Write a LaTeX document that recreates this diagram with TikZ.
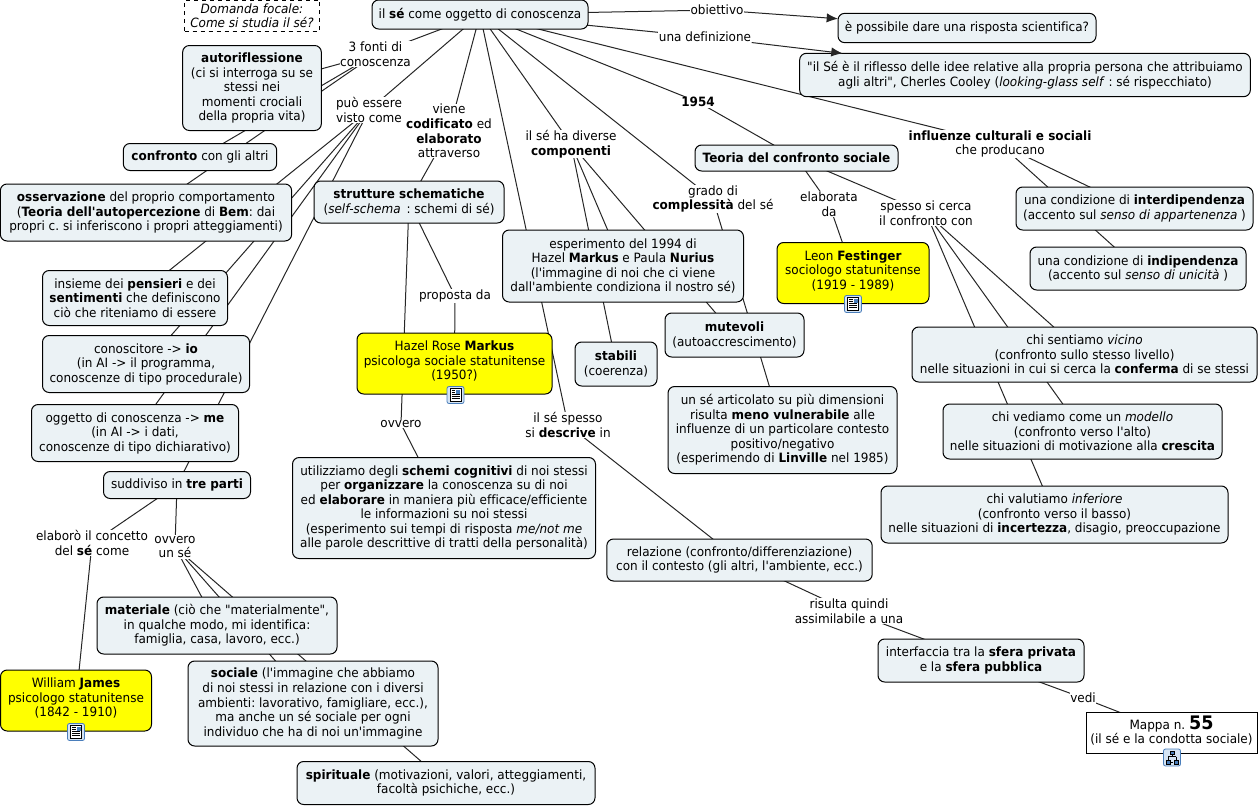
\documentclass[tikz,border=0pt]{standalone}
\usepackage{fontspec}
\setmainfont[FakeStretch=0.94,Ligatures={TeXOff,NoCommon}]{DejaVu Sans}
\usetikzlibrary{arrows.meta,backgrounds}
\definecolor{conceptfill}{HTML}{EBF2F5}
\definecolor{personfill}{RGB}{255,255,0}
\definecolor{iconblue}{HTML}{4A7EBB}
\definecolor{iconfill}{HTML}{D5E4F4}
\newcommand{\mapfont}{\frenchspacing\fontsize{9.6}{10.9}\selectfont}
\newcommand{\iconroom}{\rule[-4.5pt]{0pt}{4.5pt}}

\begin{document}
\begin{tikzpicture}[x=0.75pt, y=-0.75pt,
  concept/.style={draw=black, line width=0.75pt, fill=conceptfill, rounded corners=5pt, align=center, font=\mapfont, inner sep=0pt, outer sep=0pt},
  person/.style={concept, fill=personfill},
  mapref/.style={concept, fill=white, rounded corners=0pt},
  focal/.style={draw=black, dashed, line width=0.75pt, fill=white, align=center, font=\mapfont\itshape, inner sep=0pt, outer sep=0pt},
  linking/.style={fill=white, align=center, font=\mapfont, inner sep=0.5pt, outer sep=0pt},
  link/.style={line width=0.75pt, black!85},
  linkarrow/.style={link, -{Latex[length=8.5pt, width=7pt]}},
  docicon/.pic={
    \draw[iconblue, fill=iconfill, rounded corners=1.5pt, line width=0.6pt] (-8.5,-8.5) rectangle (8.5,8.5);
    \draw[black, fill=white, line width=0.45pt] (-5.5,-6.5) rectangle (5.5,6.5);
    \fill[iconblue] (0.5,-5.5) rectangle (4.5,-1.5);
    \draw[black, line width=0.4pt] (-4,-4.5) -- (-0.5,-4.5) (-4,-2.5) -- (-0.5,-2.5) (-4,-0.5) -- (4,-0.5) (-4,1.5) -- (4,1.5) (-4,3.5) -- (4,3.5);
  },
  mapicon/.pic={
    \draw[iconblue, fill=iconfill, rounded corners=1.5pt, line width=0.6pt] (-8.5,-8.5) rectangle (8.5,8.5);
    \draw[black, line width=0.5pt] (0,-4) -- (0,-1) (-4,-1) -- (4,-1) (-4,-1) -- (-4,3) (4,-1) -- (4,3) (-1,5) -- (1,5);
    \draw[black, fill=iconblue, line width=0.4pt] (-2,-6.5) rectangle (2,-3.5) (-6,3) rectangle (-2,6.5) (2,3) rectangle (6,6.5);
  }]
\useasboundingbox (0,0) rectangle (1260,807);

\node[concept, minimum width=162pt, minimum height=21.75pt] (root) at (480,14.5) {il \textbf{sé} come oggetto di conoscenza};
\node[focal, minimum width=101.25pt, minimum height=23.25pt] (question) at (252,15.5) {Domanda focale:\\Come si studia il sé?};
\node[concept, minimum width=193.5pt, minimum height=22pt] (goal) at (967,28) {è possibile dare una risposta scientifica?};
\node[concept, minimum width=338pt, minimum height=32.5pt] (cooley) at (1025,75) {"il Sé è il riflesso delle idee relative alla propria persona che attribuiamo\\agli altri", Cherles Cooley (\textit{looking-glass self} : sé rispecchiato)};
\node[concept, minimum width=104pt, minimum height=63.75pt] (autorifl) at (252,88) {\textbf{autoriflessione}\\(ci si interroga su se\\stessi nei\\momenti crociali\\della propria vita)};
\node[concept, minimum width=115pt, minimum height=20.25pt] (confronto) at (200,157) {\textbf{confronto} con gli altri};
\node[concept, minimum width=218.5pt, minimum height=42.75pt] (osservaz) at (146,212.5) {\textbf{osservazione} del proprio comportamento\\(\textbf{Teoria dell'autopercezione} di \textbf{Bem}: dai\\propri c. si inferiscono i propri atteggiamenti)};
\node[concept, minimum width=142.5pt, minimum height=31.5pt] (strutture) at (409,202) {\textbf{strutture schematiche}\\(\textit{self-schema}\, : schemi di sé)};
\node[concept, minimum width=138.75pt, minimum height=41.25pt] (insieme) at (135,298) {insieme dei \textbf{pensieri} e dei\\\textbf{sentimenti} che definiscono\\ciò che riteniamo di essere};
\node[concept, minimum width=155.25pt, minimum height=42.75pt] (io) at (146,364) {conoscitore -> \textbf{io}\\(in AI -> il programma,\\conoscenze di tipo procedurale)};
\node[concept, minimum width=155.25pt, minimum height=42.75pt] (me) at (135,433) {oggetto di conoscenza -> \textbf{me}\\(in AI -> i dati,\\conoscenze di tipo dichiarativo)};
\node[concept, minimum width=110.25pt, minimum height=20.25pt] (treparti) at (177,485) {suddiviso in \textbf{tre parti}};
\node[person, minimum width=146.25pt, minimum height=45.75pt] (markus) at (454.5,363.5) {Hazel Rose \textbf{Markus}\\psicologa sociale statunitense\\(1950?)\iconroom};
\node[concept, minimum width=227.25pt, minimum height=75.75pt] (schemi) at (444,508) {utilizziamo degli \textbf{schemi cognitivi} di noi stessi\\per \textbf{organizzare} la conoscenza su di noi\\ed \textbf{elaborare} in maniera più efficace/efficiente\\le informazioni su noi stessi\\(esperimento sui tempi di risposta \textit{me/not me}\\alle parole descrittive di tratti della personalità)};
\node[concept, minimum width=180.75pt, minimum height=54pt] (esperimento) at (623,266) {esperimento del 1994 di\\Hazel \textbf{Markus} e Paula \textbf{Nurius}\\(l'immagine di noi che ci viene\\dall'ambiente condiziona il nostro sé)};
\node[concept, minimum width=61.5pt, minimum height=33pt] (stabili) at (616,364) {\textbf{stabili}\\(coerenza)};
\node[concept, minimum width=104.25pt, minimum height=33pt] (mutevoli) at (734.5,335) {\textbf{mutevoli}\\(autoaccrescimento)};
\node[concept, minimum width=171.75pt, minimum height=65.25pt] (linville) at (782.5,430) {un sé articolato su più dimensioni\\risulta \textbf{meno vulnerabile} alle\\influenze di un particolare contesto\\positivo/negativo\\(esperimendo di \textbf{Linville} nel 1985)};
\node[concept, minimum width=152.25pt, minimum height=19.5pt] (teoria) at (796.5,158) {\textbf{Teoria del confronto sociale}};
\node[person, minimum width=114pt, minimum height=45.75pt] (festinger) at (853,273) {Leon \textbf{Festinger}\\sociologo statunitense\\(1919 - 1989)\iconroom};
\node[concept, minimum width=177.75pt, minimum height=32.25pt] (interdip) at (1134.5,208.5) {una condizione di \textbf{interdipendenza}\\(accento sul \textit{senso di appartenenza} )};
\node[concept, minimum width=162pt, minimum height=32.25pt] (indip) at (1138,268.5) {una condizione di \textbf{indipendenza}\\(accento sul \textit{senso di unicità} )};
\node[concept, minimum width=258.75pt, minimum height=41.25pt] (vicino) at (1084.5,354.5) {chi sentiamo \textit{vicino}\\(confronto sullo stesso livello)\\nelle situazioni in cui si cerca la \textbf{conferma} di se stessi};
\node[concept, minimum width=209.25pt, minimum height=41.25pt] (modello) at (1082.5,431.5) {chi vediamo come un \textit{modello}\\(confronto verso l'alto)\\nelle situazioni di motivazione alla \textbf{crescita}};
\node[concept, minimum width=260.25pt, minimum height=42.75pt] (inferiore) at (1054.5,514.5) {chi valutiamo \textit{inferiore}\\(confronto verso il basso)\\nelle situazioni di \textbf{incertezza}, disagio, preoccupazione};
\node[concept, minimum width=199pt, minimum height=31.5pt] (relazione) at (739.5,560) {relazione (confronto/differenziazione)\\con il contesto (gli altri, l'ambiente, ecc.)};
\node[concept, minimum width=180pt, minimum height=42.75pt] (materiale) at (217,625.5) {\textbf{materiale} (ciò che "materialmente",\\in qualche modo, mi identifica:\\famiglia, casa, lavoro, ecc.)};
\node[concept, minimum width=187.5pt, minimum height=63.75pt] (sociale) at (313,703.5) {\textbf{sociale} (l'immagine che abbiamo\\di noi stessi in relazione con i diversi\\ambienti: lavorativo, famigliare, ecc.),\\ma anche un sé sociale per ogni\\individuo che ha di noi un'immagine};
\node[concept, minimum width=223.5pt, minimum height=32.25pt] (spirituale) at (446,783) {\textbf{spirituale} (motivazioni, valori, atteggiamenti,\\facoltà psichiche, ecc.)};
\node[person, minimum width=113.25pt, minimum height=45.75pt] (james) at (76,700.5) {William \textbf{James}\\psicologo statunitense\\(1842 - 1910)\iconroom};
\node[concept, minimum width=154.5pt, minimum height=32.25pt] (interfaccia) at (981,660.5) {interfaccia tra la \textbf{sfera privata}\\e la \textbf{sfera pubblica}};
\node[mapref, minimum width=128.25pt, minimum height=30.75pt] (mappa) at (1171.5,732.5) {Mappa n. {\fontsize{14}{10}\selectfont\textbf{55}}\\(il sé e la condotta sociale)\iconroom};

\node[linking] (fonti) at (375.5,54) {3 fonti di\\conoscenza};
\node[linking] (visto) at (369,110) {può essere\\visto come};
\node[linking] (codificato) at (449,131) {viene\\\textbf{codificato} ed\\\textbf{elaborato}\\attraverso};
\node[linking] (componenti) at (571,144) {il sé ha diverse\\\textbf{componenti}};
\node[linking] (grado) at (713,199) {grado di\\\textbf{complessità} del sé};
\node[linking] (anno) at (698,102) {\textbf{1954}};
\node[linking] (elaborata) at (829,204) {elaborata\\da};
\node[linking] (spesso) at (926,213) {spesso si cerca\\il confronto con};
\node[linking] (influenze) at (1000,144) {\textbf{influenze culturali e sociali}\\che producano};
\node[linking] (obiettivo) at (717,10) {obiettivo};
\node[linking] (definizione) at (705,37) {una definizione};
\node[linking] (proposta) at (455,296) {proposta da};
\node[linking] (ovvero) at (401,424) {ovvero};
\node[linking] (descrive) at (568,425) {il sé spesso\\si \textbf{descrive} in};
\node[linking] (risulta) at (849,611) {risulta quindi\\assimilabile a una};
\node[linking] (vedi) at (1083,698) {vedi};
\node[linking] (concetto) at (92,543) {elaborò il concetto\\del \textbf{sé} come};
\node[linking] (unse) at (175,547) {ovvero\\un sé};

\pic at (455.5,395) {docicon};
\pic at (853,304) {docicon};
\pic at (76,732) {docicon};
\pic at (1172,757.5) {mapicon};

\begin{scope}[on background layer]
\draw[link] (root.center) -- (fonti.center);
\draw[link] (root.center) -- (visto.center);
\draw[link] (root.center) -- (codificato.center);
\draw[link] (root.center) -- (componenti.center);
\draw[link] (root.center) -- (descrive.center);
\draw[link] (root.center) -- (grado.center);
\draw[link] (root.center) -- (anno.center);
\draw[link] (root.center) -- (influenze.center);
\draw[link] (root.center) -- (obiettivo.center);
\draw[link] (root.center) -- (definizione.center);
\draw[link] (fonti.center) -- (autorifl.center);
\draw[link] (fonti.center) -- (confronto.center);
\draw[link] (fonti.center) -- (osservaz.center);
\draw[link] (visto.center) -- (insieme.center);
\draw[link] (visto.center) -- (io.center);
\draw[link] (visto.center) -- (me.center);
\draw[link] (visto.center) -- (treparti.center);
\draw[link] (codificato.center) -- (strutture.center);
\draw[link] (strutture.center) -- (proposta.center);
\draw[link] (strutture.center) -- (ovvero.center);
\draw[link] (proposta.center) -- (markus.center);
\draw[link] (ovvero.center) -- (schemi.center);
\draw[link] (componenti.center) -- (esperimento.center);
\draw[link] (componenti.center) -- (stabili.center);
\draw[link] (componenti.center) -- (mutevoli.center);
\draw[link] (grado.center) -- (linville.center);
\draw[link] (anno.center) -- (teoria.center);
\draw[link] (teoria.center) -- (elaborata.center);
\draw[link] (teoria.center) -- (spesso.center);
\draw[link] (elaborata.center) -- (festinger.center);
\draw[link] (spesso.center) -- (vicino.center);
\draw[link] (spesso.center) -- (modello.center);
\draw[link] (spesso.center) -- (inferiore.center);
\draw[link] (influenze.center) -- (interdip.center);
\draw[link] (influenze.center) -- (indip.center);
\draw[link] (treparti.center) -- (concetto.center);
\draw[link] (treparti.center) -- (unse.center);
\draw[link] (concetto.center) -- (james.center);
\draw[link] (unse.center) -- (materiale.center);
\draw[link] (unse.center) -- (sociale.center);
\draw[link] (unse.center) -- (spirituale.center);
\draw[link] (descrive.center) -- (relazione.center);
\draw[link] (relazione.center) -- (risulta.center);
\draw[link] (risulta.center) -- (interfaccia.center);
\draw[link] (interfaccia.center) -- (vedi.center);
\draw[link] (vedi.center) -- (mappa.center);
\end{scope}
\draw[linkarrow] (obiettivo) -- (goal);
\draw[linkarrow] (definizione) -- (cooley);
\end{tikzpicture}
\end{document}
